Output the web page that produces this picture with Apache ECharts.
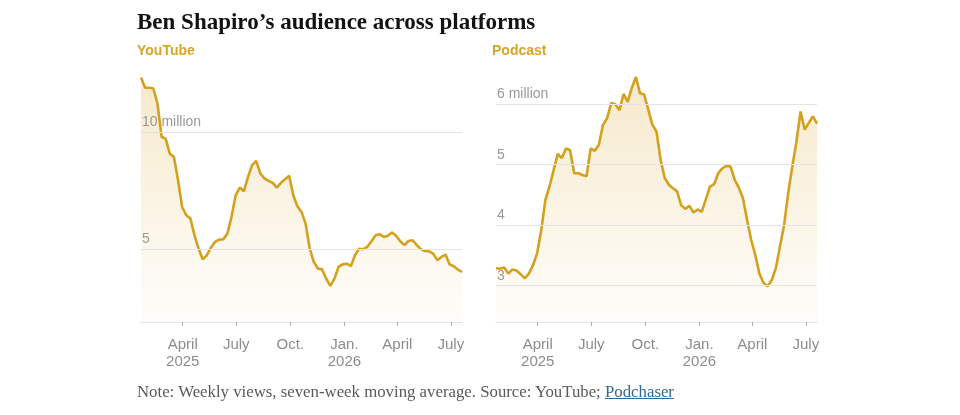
<!DOCTYPE html>
<html>
  <head>
    <title>Ben Shapiro's audience across platforms</title>
    <meta charset="utf-8">
    <script type="text/javascript" src="https://cdn.jsdelivr.net/npm/echarts@6/dist/echarts.min.js"></script>
    <style>
      html, body { margin: 0; padding: 0; background: #fff; }
      #wrap { position: relative; width: 960px; height: 415px; }
      #main { width: 960px; height: 415px; }
      #note {
        position: absolute; left: 137px; top: 382px;
        font-family: "Liberation Serif", serif; font-size: 16.8px; color: #5a5a5a;
        white-space: nowrap;
      }
      #note a { color: #326891; text-decoration: underline; }
    </style>
  </head>
  <body>
  <div id="wrap">
    <div id="main"></div>
    <div id="note">Note: Weekly views, seven-week moving average. Source: YouTube; <a>Podchaser</a></div>
  </div>

  <script type="text/javascript">
    // weekly points, first week starts 20 Jan 2025
    var firstWeek = [2025, 0, 20];

    // millions of weekly views, 7-week moving average
    var youtube = [12.32, 11.88, 11.88, 11.85, 11.21, 9.79, 9.70, 9.07, 8.93, 7.93,
                   6.79, 6.44, 6.30, 5.58, 5.01, 4.56, 4.73, 5.06, 5.30, 5.40,
                   5.41, 5.66, 6.37, 7.29, 7.62, 7.46, 8.08, 8.58, 8.76, 8.22,
                   8.01, 7.91, 7.82, 7.62, 7.82, 7.98, 8.12, 7.29, 6.82, 6.58,
                   6.08, 5.01, 4.44, 4.16, 4.13, 3.73, 3.42, 3.73, 4.23, 4.34,
                   4.37, 4.27, 4.73, 5.01, 4.99, 5.09, 5.33, 5.58, 5.63, 5.51,
                   5.56, 5.70, 5.56, 5.33, 5.16, 5.34, 5.37, 5.16, 4.99, 4.91,
                   4.90, 4.80, 4.52, 4.66, 4.76, 4.34, 4.26, 4.12, 4.02];

    var podcast = [3.29, 3.28, 3.30, 3.20, 3.27, 3.25, 3.19, 3.12, 3.20, 3.34,
                   3.54, 3.92, 4.42, 4.64, 4.91, 5.18, 5.11, 5.27, 5.24, 4.86,
                   4.86, 4.83, 4.81, 5.27, 5.23, 5.33, 5.66, 5.77, 6.02, 6.00,
                   5.90, 6.17, 6.04, 6.27, 6.45, 6.18, 6.16, 5.91, 5.66, 5.55,
                   5.08, 4.78, 4.67, 4.61, 4.56, 4.33, 4.27, 4.32, 4.21, 4.26,
                   4.22, 4.43, 4.64, 4.68, 4.86, 4.94, 4.98, 4.97, 4.75, 4.62,
                   4.45, 4.09, 3.76, 3.51, 3.20, 3.05, 2.99, 3.09, 3.29, 3.65,
                   4.00, 4.53, 4.97, 5.38, 5.88, 5.58, 5.69, 5.80, 5.68];

    var tickDates = [[2025, 3, 1], [2025, 6, 1], [2025, 9, 1], [2026, 0, 1], [2026, 3, 1], [2026, 6, 1]];
    var tickLabels = ['April\n2025', 'July', 'Oct.', 'Jan.\n2026', 'April', 'July'];

    var ytGrid = [{ value: 10, text: '10 million' }, { value: 5, text: '5' }];
    var pcGrid = [{ value: 6, text: '6 million' }, { value: 5, text: '5' }, { value: 4, text: '4' }, { value: 3, text: '3' }];

    var gold = '#d4a11e';
    var dom = document.getElementById('main');
    var myChart = echarts.init(dom);

    var weeks = [];
    for (var i = 0; i < youtube.length; i++) {
      weeks.push(new Date(firstWeek[0], firstWeek[1], firstWeek[2] + 7 * i).getTime());
    }
    var ticks = tickDates.map(function (d) { return new Date(d[0], d[1], d[2]).getTime(); });

    function pairs(vals) {
      return vals.map(function (v, i) { return [weeks[i], v]; });
    }

    // plain value axis on timestamps, ticks placed on the quarter starts
    function xAxisFor(idx) {
      return {
        type: 'value', gridIndex: idx,
        min: weeks[0], max: weeks[weeks.length - 1],
        axisLine: { show: true, onZero: false, lineStyle: { color: '#e2e2e2', width: 1 } },
        axisTick: { show: true, customValues: ticks, length: 4, lineStyle: { color: '#aaa' } },
        splitLine: { show: false },
        axisLabel: {
          customValues: ticks,
          color: '#8c8c8c', fontSize: 15, lineHeight: 17, margin: 14,
          fontFamily: 'Liberation Sans',
          formatter: function (value) {
            var k = ticks.indexOf(value);
            return k >= 0 ? tickLabels[k] : '';
          }
        }
      };
    }

    function gridLines(list) {
      return {
        silent: true, symbol: 'none', animation: false,
        lineStyle: { color: '#e4e4e4', width: 1, type: 'solid' },
        label: {
          position: 'insideStartTop', distance: [1, 3],
          color: '#999', fontSize: 14, fontFamily: 'Liberation Sans'
        },
        data: list.map(function (g) { return { yAxis: g.value, label: { formatter: g.text } }; })
      };
    }

    function series(idx, vals, lines) {
      return {
        type: 'line', xAxisIndex: idx, yAxisIndex: idx,
        data: pairs(vals), showSymbol: false, symbol: 'none',
        lineStyle: { color: gold, width: 2.6 },
        areaStyle: {
          color: new echarts.graphic.LinearGradient(0, 0, 0, 1, [
            { offset: 0, color: 'rgba(222,175,70,0.40)' },
            { offset: 1, color: 'rgba(232,190,90,0.05)' }
          ])
        },
        markLine: gridLines(lines),
        animation: false
      };
    }

    var option = {
      title: [
        { text: 'Ben Shapiro\u2019s audience across platforms', left: 137, top: 12, padding: 0,
          textStyle: { fontFamily: 'Liberation Serif', fontWeight: 'bold', fontSize: 23, color: '#121212' } },
        { text: 'YouTube', left: 137, top: 44, padding: 0,
          textStyle: { fontFamily: 'Liberation Sans', fontWeight: 'bold', fontSize: 14, color: '#d6a52a' } },
        { text: 'Podcast', left: 492, top: 44, padding: 0,
          textStyle: { fontFamily: 'Liberation Sans', fontWeight: 'bold', fontSize: 14, color: '#d6a52a' } }
      ],
      grid: [
        { left: 141, right: 498, top: 74, bottom: 93 },
        { left: 496, right: 143, top: 74, bottom: 93 }
      ],
      xAxis: [xAxisFor(0), xAxisFor(1)],
      yAxis: [
        { type: 'value', gridIndex: 0, min: 1.88, max: 12.47, show: false, splitLine: { show: false } },
        { type: 'value', gridIndex: 1, min: 2.40, max: 6.50, show: false, splitLine: { show: false } }
      ],
      series: [series(0, youtube, ytGrid), series(1, podcast, pcGrid)]
    };

    myChart.setOption(option, true);
  </script>
  </body>
</html>
